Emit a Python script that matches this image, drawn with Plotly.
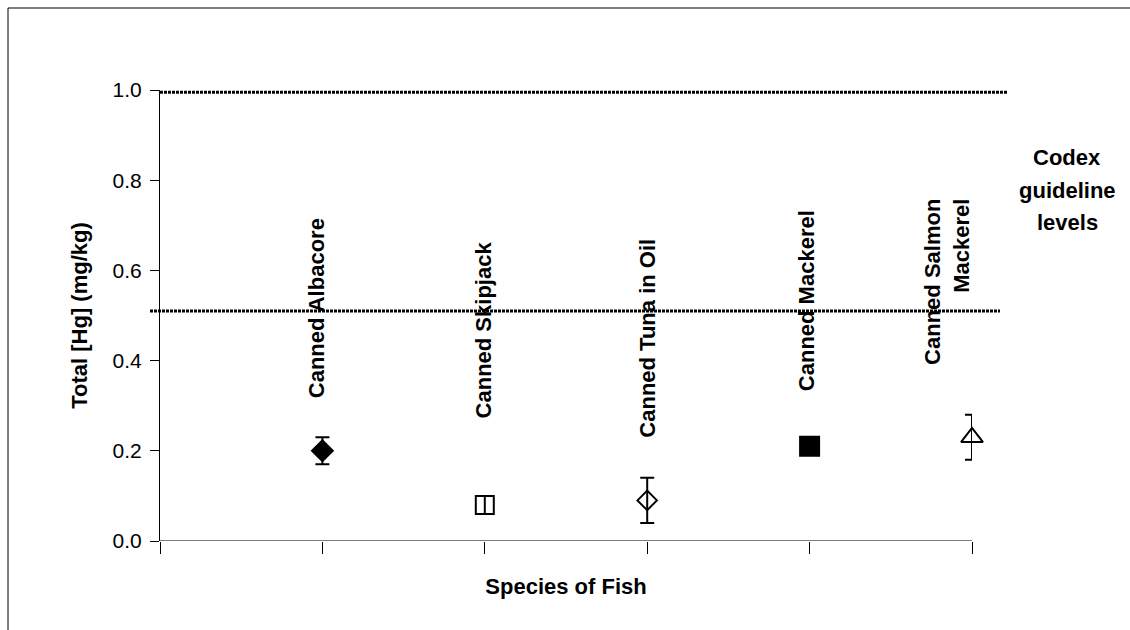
import plotly.graph_objects as go

# ---- data ----
categories = ["Canned Albacore", "Canned Skipjack", "Canned Tuna in Oil",
              "Canned Mackerel", "Canned Salmon<br>Mackerel"]
mean_hg = [0.20, 0.08, 0.09, 0.21, 0.23]
err_hg = [0.03, 0.02, 0.05, 0.005, 0.05]
symbols = ["diamond", "square-open", "diamond-open", "square", "triangle-up-open"]
codex_levels = [0.51, 0.995]
codex_lines = ["Codex", "guideline", "levels"]
y_ticks = [0.0, 0.2, 0.4, 0.6, 0.8, 1.0]

# ---- layout helpers (positions / styles) ----
W, H = 1130, 630
ML, MR, MT, MB = 160, 158, 90, 89
PW, PH = W - ML - MR, H - MT - MB
FONT = "Liberation Sans, Arial, sans-serif"

def px_to_paper_x(px):
    return (px - ML) / PW

def px_to_paper_y(py):
    return (H - MB - py) / PH

xpos = [i + 1 for i in range(len(categories))]
label_bottom = [0.313, 0.268, 0.224, 0.328, 0.386]
label_xshift = [-6, -1, 0, -3, -25]
line_x0 = [px_to_paper_x(150), px_to_paper_x(160)]
line_x1 = [px_to_paper_x(1000), px_to_paper_x(1007)]

fig = go.Figure()
fig.add_trace(go.Scatter(
    x=xpos, y=mean_hg, mode="markers", cliponaxis=False,
    marker=dict(symbol=symbols, size=[16, 18, 15, 19, 19], color="black", opacity=1,
                line=dict(color="black", width=2)),
    error_y=dict(type="data", array=err_hg, visible=True, color="black",
                 thickness=2, width=7),
    showlegend=False, hoverinfo="x+y",
))

shapes = []
for lvl, x0, x1 in zip(codex_levels, line_x0, line_x1):
    shapes.append(dict(type="line", xref="paper", yref="y", x0=x0, x1=x1,
                       y0=lvl, y1=lvl, line=dict(color="black", width=3, dash="3px,1px"),
                       layer="above"))
# outer frame (left + top)
shapes.append(dict(type="line", xref="paper", yref="paper",
                   x0=px_to_paper_x(8), x1=px_to_paper_x(1135),
                   y0=px_to_paper_y(8), y1=px_to_paper_y(8),
                   line=dict(color="black", width=1)))
shapes.append(dict(type="line", xref="paper", yref="paper",
                   x0=px_to_paper_x(8), x1=px_to_paper_x(8),
                   y0=px_to_paper_y(8), y1=px_to_paper_y(635),
                   line=dict(color="black", width=1)))
# x axis line only spanning the category range
shapes.append(dict(type="line", xref="x", yref="y", x0=0, x1=len(categories),
                   y0=0, y1=0, line=dict(color="black", width=1)))

annotations = []
for xv, lab, yb, xs in zip(xpos, categories, label_bottom, label_xshift):
    annotations.append(dict(x=xv, y=yb, xref="x", yref="y", text="<b>" + lab + "</b>",
                            textangle=-90, showarrow=False, xanchor="center",
                            yanchor="bottom", xshift=xs, align="right",
                            font=dict(family=FONT, size=22, color="black")))
codex_y = [157, 190, 222]
for t, py in zip(codex_lines, codex_y):
    annotations.append(dict(x=px_to_paper_x(1067), y=px_to_paper_y(py), xref="paper",
                            yref="paper", text="<b>" + t + "</b>", showarrow=False,
                            xanchor="center", yanchor="middle",
                            font=dict(family=FONT, size=22, color="black")))

fig.update_layout(
    width=W, height=H, margin=dict(l=ML, r=MR, t=MT, b=MB, autoexpand=False),
    paper_bgcolor="white", plot_bgcolor="white",
    font=dict(family=FONT, size=21, color="black"),
    shapes=shapes, annotations=annotations,
    xaxis=dict(range=[0, len(categories)], tickvals=list(range(len(categories) + 1)),
               showticklabels=False, ticks="outside", ticklen=12, tickcolor="black",
               tickwidth=1, showline=False, showgrid=False, zeroline=False,
               title=dict(text="<b>Species of Fish</b>", standoff=25,
                          font=dict(family=FONT, size=22, color="black"))),
    yaxis=dict(range=[0, 1], tickvals=y_ticks, tickformat=".1f", ticks="outside",
               ticklen=9, tickcolor="black", tickwidth=1, showline=True,
               linecolor="black", linewidth=1, showgrid=False, zeroline=False,
               ticklabelstandoff=4,
               tickfont=dict(family=FONT, size=21, color="black"),
               title=dict(text="<b>Total [Hg] (mg/kg)</b>", standoff=18,
                          font=dict(family=FONT, size=22, color="black"))),
)

fig.write_html("out.html")
